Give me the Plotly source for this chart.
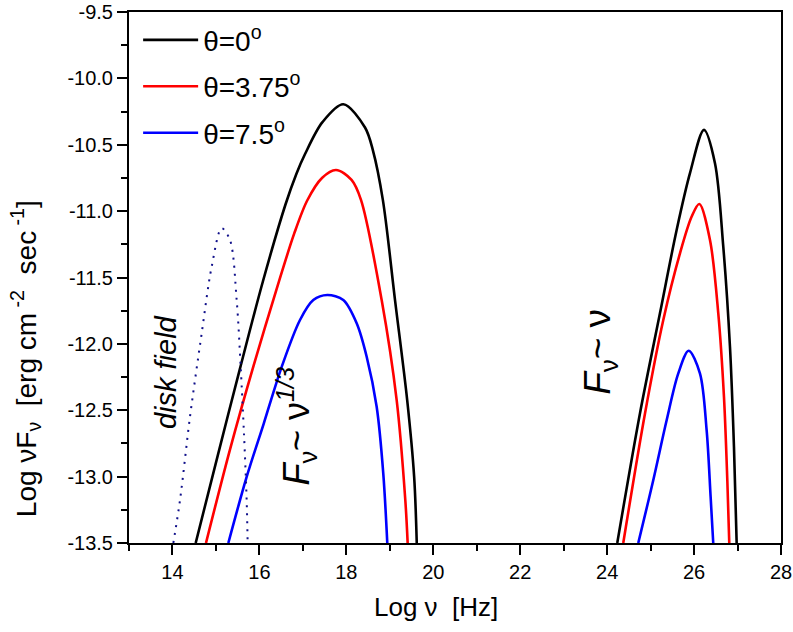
import plotly.graph_objects as go

# ---- data (log nu [Hz], log nuF_nu) ----
# theta = 0 deg, synchrotron hump
black1_x = [14.534, 15.05, 15.55, 16.08, 16.6, 16.85, 17.05, 17.45, 17.93, 18.43, 18.61, 18.84, 19.12, 19.40, 19.56, 19.62]
black1_y = [-13.5, -12.83, -12.19, -11.53, -10.95, -10.72, -10.57, -10.33, -10.195, -10.37, -10.54, -10.915, -11.67, -12.424, -13.0, -13.5]
# theta = 0 deg, Compton hump
black2_x = [24.233, 24.755, 25.215, 25.599, 25.906, 26.228, 26.481, 26.672, 26.826, 26.918, 26.98]
black2_y = [-13.5, -12.524, -11.77, -11.142, -10.714, -10.388, -10.639, -11.268, -12.022, -12.776, -13.5]

# theta = 3.75 deg
red1_x = [14.771, 15.32, 15.87, 16.45, 16.8, 17.1, 17.44, 17.762, 18.12, 18.337, 18.813, 19.158, 19.357, 19.411]
red1_y = [-13.5, -12.80, -12.16, -11.53, -11.17, -10.92, -10.75, -10.69, -10.765, -10.915, -11.67, -12.424, -13.178, -13.5]
red2_x = [24.371, 24.871, 25.292, 25.676, 25.945, 26.12, 26.366, 26.557, 26.688, 26.765, 26.81]
red2_y = [-13.5, -12.524, -11.82, -11.318, -11.041, -10.946, -11.217, -11.77, -12.399, -13.027, -13.5]

# theta = 7.5 deg
blue1_x = [15.285, 15.707, 16.1, 16.513, 16.934, 17.24, 17.562, 17.93, 18.238, 18.468, 18.698, 18.85, 18.942]
blue1_y = [-13.5, -13.002, -12.6, -12.173, -11.82, -11.67, -11.632, -11.67, -11.845, -12.097, -12.474, -12.977, -13.5]
blue2_x = [24.716, 25.061, 25.369, 25.637, 25.876, 26.135, 26.289, 26.381, 26.441]
blue2_y = [-13.5, -13.027, -12.575, -12.222, -12.052, -12.222, -12.65, -13.153, -13.5]

# disk field (dotted)
disk_x = [14.02, 14.173, 14.403, 14.672, 14.902, 15.132, 15.323, 15.477, 15.569, 15.645, 15.707, 15.73]
disk_y = [-13.5, -13.178, -12.55, -11.921, -11.419, -11.129, -11.217, -11.67, -12.173, -12.675, -13.178, -13.5]

series_names = ["θ=0<sup>o</sup>", "θ=3.75<sup>o</sup>", "θ=7.5<sup>o</sup>"]
series_colors = ["#000000", "#ff0000", "#0000ff"]

x_tick_vals = [14, 16, 18, 20, 22, 24, 26, 28]
x_tick_text = ["14", "16", "18", "20", "22", "24", "26", "28"]
y_tick_vals = [-13.5, -13.0, -12.5, -12.0, -11.5, -11.0, -10.5, -10.0, -9.5]
y_tick_text = ["-13.5", "-13.0", "-12.5", "-12.0", "-11.5", "-11.0", "-10.5", "-10.0", "-9.5"]

FONT = "Liberation Sans, Arial, sans-serif"
NB = "\u00a0"

fig = go.Figure()

humps = [
    (black1_x, black1_y, black2_x, black2_y),
    (red1_x, red1_y, red2_x, red2_y),
    (blue1_x, blue1_y, blue2_x, blue2_y),
]
for i, (x1, y1, x2, y2) in enumerate(humps):
    fig.add_trace(go.Scatter(
        x=x1, y=y1, mode="lines", name=series_names[i],
        line=dict(color=series_colors[i], width=2.6, shape="spline", smoothing=0.9),
        legendgroup=f"g{i}", showlegend=True))
    fig.add_trace(go.Scatter(
        x=x2, y=y2, mode="lines", name=series_names[i],
        line=dict(color=series_colors[i], width=2.6, shape="spline", smoothing=0.9),
        legendgroup=f"g{i}", showlegend=False))

fig.add_trace(go.Scatter(
    x=disk_x, y=disk_y, mode="lines", showlegend=False,
    line=dict(color="#10108a", width=2, dash="2px,6px", shape="spline", smoothing=0.9)))

axis_common = dict(
    showline=True, linecolor="black", linewidth=2, mirror=True,
    ticks="outside", ticklen=10, tickwidth=2, tickcolor="black",
    showgrid=False, zeroline=False, automargin=False,
    tickfont=dict(family=FONT, size=20, color="black"),
)

fig.update_xaxes(
    range=[13, 28], tickmode="array", tickvals=x_tick_vals, ticktext=x_tick_text,
    minor=dict(ticks="outside", ticklen=6, tickwidth=2, tickcolor="black", dtick=1, tick0=13),
    **axis_common)
fig.update_yaxes(
    range=[-13.5, -9.5], tickmode="array", tickvals=y_tick_vals, ticktext=y_tick_text,
    minor=dict(ticks="outside", ticklen=6, tickwidth=2, tickcolor="black", dtick=0.25, tick0=-13.5),
    **axis_common)

# axis titles placed as annotations to match the reference's positions
fig.add_annotation(x=0.471, y=-0.121, xref="paper", yref="paper",
                   text="Log ν  [Hz]", showarrow=False, xanchor="center", yanchor="middle",
                   font=dict(family=FONT, size=26, color="black"))
fig.add_annotation(x=-0.158, y=0.348, xref="paper", yref="paper",
                   text=f"Log{NB}νF<sub>ν</sub>{NB} [erg{NB}cm<sup>{NB}-2</sup>{NB}{NB}sec<sup>{NB}-1</sup>]",
                   textangle=-90, showarrow=False, xanchor="center", yanchor="middle",
                   font=dict(family=FONT, size=28, color="black"))

fig.add_annotation(x=13.85, y=-12.213, xref="x", yref="y", text="<i>disk field</i>",
                   textangle=-90, showarrow=False,
                   font=dict(family=FONT, size=29, color="black"))
fig.add_annotation(x=16.85, y=-12.62, xref="x", yref="y",
                   text="<i>F</i><sub>ν</sub>~ ν<sup><i>1/3</i></sup>",
                   textangle=-90, showarrow=False,
                   font=dict(family=FONT, size=36, color="black"))
fig.add_annotation(x=23.85, y=-12.063, xref="x", yref="y",
                   text="<i>F</i><sub>ν</sub>~ ν",
                   textangle=-90, showarrow=False,
                   font=dict(family=FONT, size=37, color="black"))

fig.update_layout(
    width=793, height=632,
    margin=dict(l=129, r=12, t=12, b=89, autoexpand=False),
    paper_bgcolor="white", plot_bgcolor="white",
    font=dict(family=FONT, color="black"),
    legend=dict(x=0.014, y=0.994, xanchor="left", yanchor="top",
                bgcolor="rgba(0,0,0,0)", borderwidth=0,
                font=dict(family=FONT, size=28, color="black"),
                tracegroupgap=7, itemwidth=55),
    showlegend=True,
)

fig.write_html("out.html",
               config={"displayModeBar": False},
               post_script="document.body.style.margin='0px';document.body.style.overflow='hidden';")
